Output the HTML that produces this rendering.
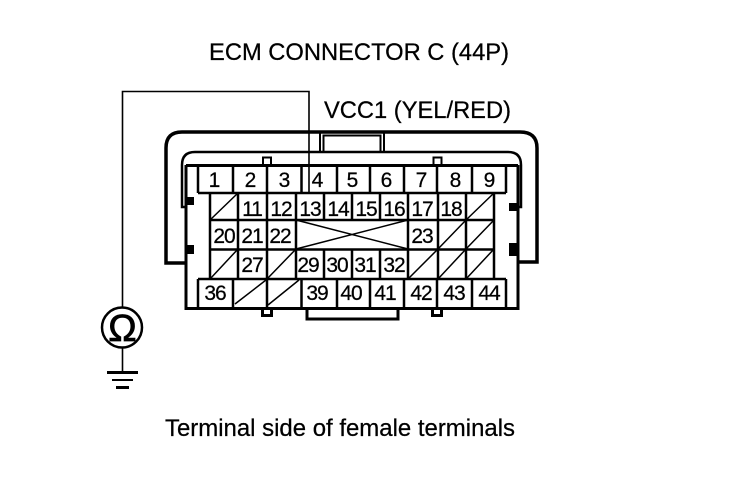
<!DOCTYPE html>
<html><head><meta charset="utf-8">
<style>
html,body{margin:0;padding:0;background:#fff;width:736px;height:480px;overflow:hidden}
svg{display:block}
text{font-family:"Liberation Sans",sans-serif;fill:#000;stroke:#000;stroke-width:.25px}
.n{font-size:21px;text-anchor:middle;letter-spacing:-1px}
.t{font-size:24px}
</style></head><body>
<svg width="736" height="480" viewBox="0 0 736 480" xmlns="http://www.w3.org/2000/svg">
<rect width="736" height="480" fill="#fff"/>
<text class="t" x="209" y="60" textLength="300" lengthAdjust="spacingAndGlyphs">ECM CONNECTOR C (44P)</text>
<text class="t" x="324" y="118" textLength="187" lengthAdjust="spacingAndGlyphs">VCC1 (YEL/RED)</text>
<text class="t" x="165" y="436" textLength="350" lengthAdjust="spacingAndGlyphs">Terminal side of female terminals</text>

<g fill="none" stroke="#000">
<!-- wire -->
<path d="M309 193V91.500H122.500V307" stroke-width="1.600"/>
<path d="M122.500 348V372" stroke-width="1.600"/>
<circle cx="122" cy="327.500" r="20" stroke-width="2.500"/>
<!-- outer shell -->
<path d="M186 263H166V148Q166 132 182 132H520Q537 132 537 148V262H518" stroke-width="3.500"/>
<!-- inner shell -->
<path d="M186 207H182V165Q182 152 195 152H508Q521 152 521 165V207H517" stroke-width="2.500"/>
<!-- top key -->
<path d="M320 152V133M323.500 152V135.500H380.500V152M384 152V133" stroke-width="2"/>
<!-- small squares -->
<rect x="263" y="157.500" width="8" height="8" stroke-width="2"/>
<rect x="433.500" y="157.500" width="8" height="8" stroke-width="2"/>
<path d="M262.500 309V315.500H271.500V309M432.500 309V315.500H441.500V309" stroke-width="3"/>
<!-- bottom key -->
<path d="M307 308V319H398V308" stroke-width="3"/>
<!-- body -->
<path d="M186 165V308.500H518V165M186 165.500H518" stroke-width="3"/>
<!-- top row -->
<path d="M198 165V193M233 165V193M267 165V193M301.500 165V193M337 165V193M370 165V193M404 165V193M437 165V193M472 165V193M506 165V193" stroke-width="2.500"/>
<path d="M198 193H506" stroke-width="2.500"/>
<!-- bottom row -->
<path d="M198 279V308M233 279V308M267 279V308M301.500 279V308M337 279V308M370 279V308M404 279V308M437 279V308M472 279V308M506 279V308" stroke-width="2.500"/>
<path d="M198 279H506" stroke-width="2.500"/>
<!-- middle grid -->
<path d="M210 193V279M238 193V279M267 193V279M296 193V220M324 193V220M352 193V220M380 193V220M408 193V279M438 193V279M466 193V279M494 193V279M296 220V279M324 249V279M352 249V279M380 249V279" stroke-width="2.500"/>
<path d="M210 220H494M210 249.500H494" stroke-width="2.500"/>
<!-- X -->
<path d="M296 220L408 249M296 249L408 220" stroke-width="1.500"/>
<!-- diagonals -->
<path d="M210 220L238 193M466 220L494 193M438 249L466 220M466 249L494 220M210 279L238 249M267 279L296 249M408 279L438 249M438 279L466 249M466 279L494 249M235 304L266 280M268 305L299 280" stroke-width="1.500"/>
</g>
<g fill="#000">
<rect x="187" y="197" width="7" height="8"/>
<rect x="187" y="245" width="7" height="9"/>
<rect x="509" y="203" width="8" height="8"/>
<rect x="509" y="243" width="8" height="13"/>
<rect x="107" y="371" width="31" height="3"/>
<rect x="112" y="379" width="21" height="2"/>
<rect x="116" y="386" width="13" height="3"/>
</g>
<text x="122.500" y="341" style="font-size:38px;text-anchor:middle;stroke-width:.8px">Ω</text>

<g class="nums">
<text class="n" x="214" y="187">1</text><text class="n" x="250" y="187">2</text><text class="n" x="284" y="187">3</text><text class="n" x="317" y="187">4</text><text class="n" x="352" y="187">5</text><text class="n" x="386" y="187">6</text><text class="n" x="421" y="187">7</text><text class="n" x="455" y="187">8</text><text class="n" x="489" y="187">9</text>
<text class="n" x="252" y="216">11</text><text class="n" x="281" y="216">12</text><text class="n" x="310" y="216">13</text><text class="n" x="338" y="216">14</text><text class="n" x="366" y="216">15</text><text class="n" x="394" y="216">16</text><text class="n" x="422" y="216">17</text><text class="n" x="451" y="216">18</text>
<text class="n" x="224" y="243">20</text><text class="n" x="252" y="243">21</text><text class="n" x="280" y="243">22</text><text class="n" x="422" y="243">23</text>
<text class="n" x="252" y="272">27</text><text class="n" x="308" y="272">29</text><text class="n" x="337" y="272">30</text><text class="n" x="365" y="272">31</text><text class="n" x="394" y="272">32</text>
<text class="n" x="215" y="300">36</text><text class="n" x="317" y="300">39</text><text class="n" x="351" y="300">40</text><text class="n" x="385" y="300">41</text><text class="n" x="421" y="300">42</text><text class="n" x="454" y="300">43</text><text class="n" x="489" y="300">44</text>
</g>
</svg>
</body></html>
